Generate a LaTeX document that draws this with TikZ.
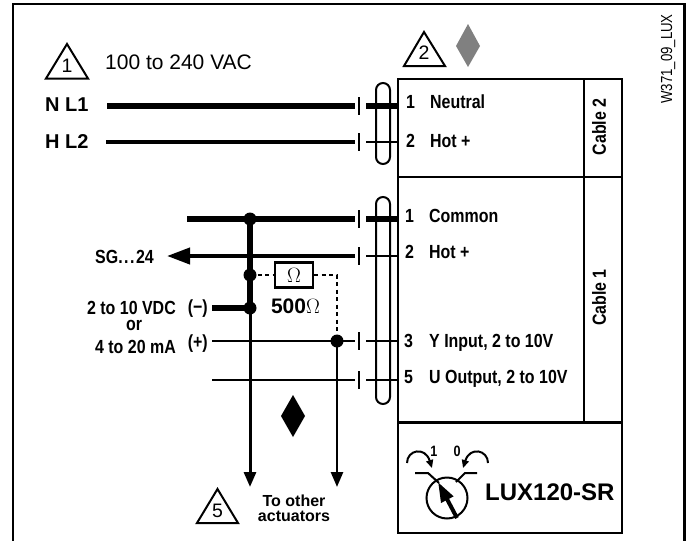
\documentclass[tikz,border=0pt]{standalone}
\usepackage{fontspec}
\setmainfont{Liberation Sans}
\newfontfamily\narrowf[FakeStretch=0.84]{Liberation Sans}
\newfontfamily\codef[FakeStretch=0.825]{Liberation Sans}
\usetikzlibrary{arrows.meta}
\tikzset{
 x=1pt,y=-1pt,
 heavy/.style={line width=5.5pt},
 medium/.style={line width=4pt},
 thin wire/.style={line width=2pt},
 frame/.style={line width=2.2pt},
 tlabel/.style={inner sep=0pt,font=\fontsize{19}{20}\narrowf\bfseries,anchor=base west},
 dot/.style={circle,fill=black,inner sep=0pt,minimum size=13pt},
 tri/.style={line width=2pt,line join=miter},
 tnum/.style={inner sep=0pt,font=\fontsize{19.5}{20}\selectfont},
 loop/.style={line width=2pt,rounded corners=7pt},
 arr/.style={-{Triangle[length=15pt,width=12pt]}},
 bigarr/.style={-{Triangle[length=23pt,width=16pt]}},
 term/.style={line width=2.5pt},
}
\begin{document}
\begin{tikzpicture}
\useasboundingbox (0,0) rectangle (686,541);
\draw[line width=2.2pt] (13,541)--(13,4)--(684.5,4)--(684.5,541);
% triangles
\draw[tri] (67,44)--(46,78.5)--(88,78.5)--cycle;
\node[tnum] (t1) at (67,66) {1};
\draw[tri] (424,32)--(404,66)--(445,66)--cycle;
\node[tnum] (t2) at (424,53) {2};
\draw[tri] (217.5,489)--(197,523)--(238,523)--cycle;
\node[tnum] (t5) at (217.5,511) {5};
\fill[gray] (468,24)--(480,46)--(468,67)--(456,46)--cycle;
\fill (293,395)--(305,416)--(293,437)--(281,416)--cycle;
\node[inner sep=0pt,anchor=west,font=\fontsize{21}{21}\selectfont] (vac) at (105,62) {100 to 240 VAC};
\node[inner sep=0pt,anchor=west,font=\fontsize{20}{20}\bfseries] (nl) at (45,105) {N L1};
\node[inner sep=0pt,anchor=west,font=\fontsize{20}{20}\bfseries] (hl) at (45,142) {H L2};
\node[rotate=90,inner sep=0pt,font=\fontsize{16}{16}\codef] (code) at (668,59) {W371\_09\_LUX};
% terminal box
\draw[frame] (398,79) rectangle (622,533);
\draw[frame] (398,177)--(622,177);
\draw[frame] (398,422.5)--(622,422.5);
\draw[frame] (584,79)--(584,422.5);
% terminal ticks
\foreach \y in {106,142,219,256,341,380}{\draw[term] (359,\y-9)--(359,\y+9);}
% dots
\node[dot] (d1) at (250,219) {};
\node[dot] (d2) at (250,275) {};
\node[dot] (d3) at (250,308) {};
\node[dot] (d4) at (337,341) {};
\coordinate (e1) at (250,487);
\coordinate (e2) at (337,487);
% wires
\draw[heavy] (107,106)--(355,106);
\draw[heavy] (366,106)--(398,106);
\draw[medium] (106,142)--(355,142);
\draw[thin wire] (366,142)--(398,142);
\draw[heavy] (187,219)--(355,219);
\draw[heavy] (366,219)--(398,219);
\draw[medium,bigarr] (355,256)--(167,256);
\draw[thin wire] (366,256)--(398,256);
\draw[thin wire] (212,341)--(355,341);
\draw[thin wire] (366,341)--(398,341);
\draw[thin wire] (212,380)--(355,380);
\draw[thin wire] (366,380)--(398,380);
\draw[line width=5.5pt] (d1.center)--(d3.center);
\draw[line width=3pt,arr] (d3.center)--(e1);
\draw[line width=2.5pt,arr] (d4.center)--(e2);
\draw[heavy] (212,308)--(d3.center);
\node[draw,line width=2.2pt,fill=white,minimum width=38pt,minimum height=25pt,inner sep=0pt,font=\fontsize{20}{20}\selectfont] (r) at (294,275) {$\Omega$};
\draw[line width=2pt,dash pattern=on 4pt off 3.5pt] (d2.center)--(r.west);
\draw[line width=2pt,dash pattern=on 4pt off 3.5pt] (r.east)--(337,275)--(d4.center);
\node[inner sep=0pt,font=\fontsize{21}{21}\bfseries] (ro) at (295.5,306) {500$\Omega$};
% loops
\draw[loop] (376,83) rectangle (390,164);
\draw[loop] (376,197) rectangle (390,404);
% labels
\foreach \n/\x/\y/\t in {a/406/108/1,b/406/147/2,c/405/222.5/1,d/405/258/2,e/404/347/3,f/404/383/5}{\node[tlabel] (\n) at (\x,\y) {\t};}
\node[tlabel] (an) at (430,108) {Neutral};
\node[tlabel] (bn) at (430,147) {Hot +};
\node[tlabel] (cn) at (429,222.5) {Common};
\node[tlabel] (dn) at (429,258) {Hot +};
\node[tlabel] (en) at (429,347) {Y Input, 2 to 10V};
\node[tlabel] (fn) at (429,383) {U Output, 2 to 10V};
\node[rotate=90,tlabel,anchor=center] (c2) at (599,127) {Cable 2};
\node[rotate=90,tlabel,anchor=center] (c1) at (599,297.5) {Cable 1};
\node[tlabel] (s) at (95,263) {SG.\kern1.5pt.\kern1.5pt.\kern1.5pt24};
\node[tlabel,anchor=base east] (v1) at (176,314) {2 to 10 VDC};
\node[tlabel,anchor=base] (v2) at (134,330) {or};
\node[tlabel,anchor=base east] (v3) at (176,353) {4 to 20 mA};
\node[tlabel,anchor=base east] (pm) at (208,313) {(−)};
\node[tlabel,anchor=base east] (pp) at (208,348) {(+)};
\node[inner sep=0pt,align=center,font=\fontsize{16}{15}\bfseries] (to) at (294,508.5) {To other\\actuators};
% dial
\node[inner sep=0pt,font=\fontsize{24}{24}\bfseries,anchor=west] (lux) at (485,492) {LUX120-SR};
\draw[line width=2pt] (447,498) circle (20.5pt);
\draw[line width=2pt] (415,473)--(428,473)--(439,483);
\draw[line width=2pt] (477,473)--(465,473)--(456,482);
\draw[line width=4pt,-{Triangle[length=20pt,width=13pt]}] (457,518)--(438,482);
\node[inner sep=0pt,font=\fontsize{15}{15}\narrowf\bfseries] (o1) at (434,451) {1};
\node[inner sep=0pt,font=\fontsize{15}{15}\narrowf\bfseries] (o0) at (457,451) {0};
\draw[line width=2pt,-{Triangle[length=8pt,width=7pt]}] (407,463) .. controls (407,450) and (425,446) .. (432,468);
\draw[line width=2pt,-{Triangle[length=8pt,width=7pt]}] (488,463) .. controls (488,450) and (470,446) .. (463,468);
\end{tikzpicture}
\end{document}
